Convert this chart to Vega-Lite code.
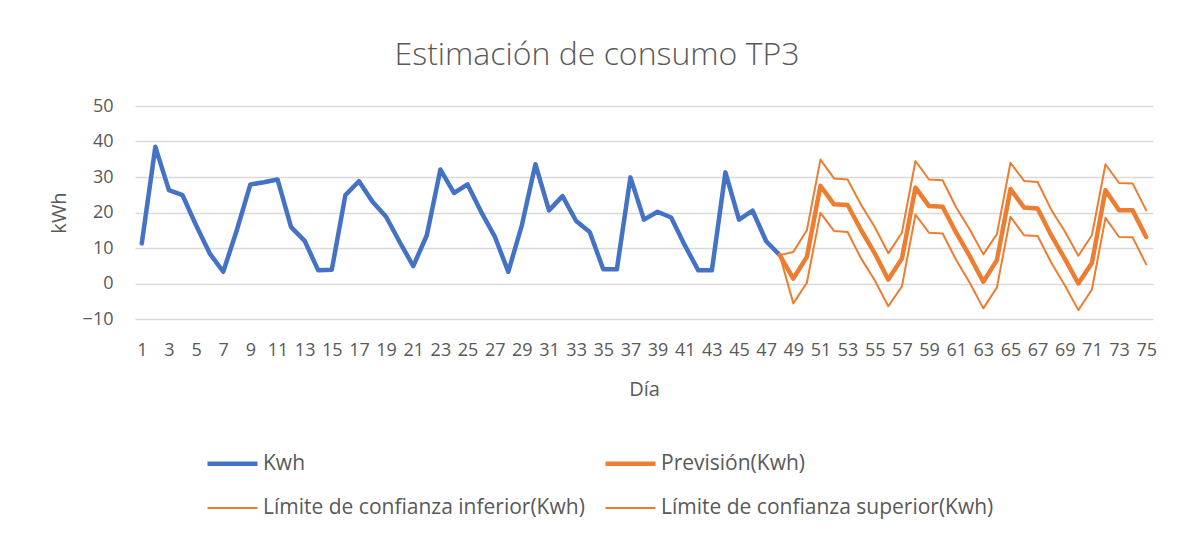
{
  "$schema": "https://vega.github.io/schema/vega-lite/v6.json",
  "width": 1018,
  "height": 213,
  "autosize": {"type": "none"},
  "padding": {"left": 135, "top": 106, "right": 25, "bottom": 219},
  "background": "white",
  "title": {
    "text": "Estimación de consumo TP3",
    "font": "Open Sans",
    "fontSize": 32,
    "fontWeight": 300,
    "color": "#595959",
    "anchor": "middle",
    "dx": -47,
    "offset": 25
  },
  "data": {
    "values": [
      {"Día": 1, "Kwh": 11.3}, {"Día": 2, "Kwh": 38.5}, {"Día": 3, "Kwh": 26.3}, {"Día": 4, "Kwh": 24.9},
      {"Día": 5, "Kwh": 16.4}, {"Día": 6, "Kwh": 8.5}, {"Día": 7, "Kwh": 3.3}, {"Día": 8, "Kwh": 15.0},
      {"Día": 9, "Kwh": 27.9}, {"Día": 10, "Kwh": 28.5}, {"Día": 11, "Kwh": 29.3}, {"Día": 12, "Kwh": 15.9},
      {"Día": 13, "Kwh": 12.0}, {"Día": 14, "Kwh": 3.7}, {"Día": 15, "Kwh": 3.9}, {"Día": 16, "Kwh": 24.9},
      {"Día": 17, "Kwh": 28.8}, {"Día": 18, "Kwh": 23.0}, {"Día": 19, "Kwh": 18.8}, {"Día": 20, "Kwh": 11.7},
      {"Día": 21, "Kwh": 4.9}, {"Día": 22, "Kwh": 13.6}, {"Día": 23, "Kwh": 32.1}, {"Día": 24, "Kwh": 25.5},
      {"Día": 25, "Kwh": 27.9}, {"Día": 26, "Kwh": 20.2}, {"Día": 27, "Kwh": 13.3}, {"Día": 28, "Kwh": 3.3},
      {"Día": 29, "Kwh": 16.4}, {"Día": 30, "Kwh": 33.6}, {"Día": 31, "Kwh": 20.6}, {"Día": 32, "Kwh": 24.6},
      {"Día": 33, "Kwh": 17.6}, {"Día": 34, "Kwh": 14.5}, {"Día": 35, "Kwh": 4.0}, {"Día": 36, "Kwh": 4.0},
      {"Día": 37, "Kwh": 29.9}, {"Día": 38, "Kwh": 18.0}, {"Día": 39, "Kwh": 20.2}, {"Día": 40, "Kwh": 18.6},
      {"Día": 41, "Kwh": 10.8}, {"Día": 42, "Kwh": 3.7}, {"Día": 43, "Kwh": 3.7}, {"Día": 44, "Kwh": 31.3},
      {"Día": 45, "Kwh": 18.0}, {"Día": 46, "Kwh": 20.5}, {"Día": 47, "Kwh": 11.9},
      {"Día": 48, "Kwh": 8.0, "Previsión(Kwh)": 8.0, "Límite de confianza inferior(Kwh)": 8.0, "Límite de confianza superior(Kwh)": 8.0},
      {"Día": 49, "Previsión(Kwh)": 1.4, "Límite de confianza inferior(Kwh)": -5.6, "Límite de confianza superior(Kwh)": 8.9},
      {"Día": 50, "Previsión(Kwh)": 7.5, "Límite de confianza inferior(Kwh)": 0.2, "Límite de confianza superior(Kwh)": 15.0},
      {"Día": 51, "Previsión(Kwh)": 27.5, "Límite de confianza inferior(Kwh)": 19.9, "Límite de confianza superior(Kwh)": 34.9},
      {"Día": 52, "Previsión(Kwh)": 22.3, "Límite de confianza inferior(Kwh)": 14.8, "Límite de confianza superior(Kwh)": 29.6},
      {"Día": 53, "Previsión(Kwh)": 22.1, "Límite de confianza inferior(Kwh)": 14.5, "Límite de confianza superior(Kwh)": 29.3},
      {"Día": 54, "Previsión(Kwh)": 15.0, "Límite de confianza inferior(Kwh)": 7.0, "Límite de confianza superior(Kwh)": 22.1},
      {"Día": 55, "Previsión(Kwh)": 8.5, "Límite de confianza inferior(Kwh)": 0.9, "Límite de confianza superior(Kwh)": 15.9},
      {"Día": 56, "Previsión(Kwh)": 1.1, "Límite de confianza inferior(Kwh)": -6.4, "Límite de confianza superior(Kwh)": 8.5},
      {"Día": 57, "Previsión(Kwh)": 7.0, "Límite de confianza inferior(Kwh)": -0.8, "Límite de confianza superior(Kwh)": 14.3},
      {"Día": 58, "Previsión(Kwh)": 27.0, "Límite de confianza inferior(Kwh)": 19.4, "Límite de confianza superior(Kwh)": 34.5},
      {"Día": 59, "Previsión(Kwh)": 21.8, "Límite de confianza inferior(Kwh)": 14.3, "Límite de confianza superior(Kwh)": 29.3},
      {"Día": 60, "Previsión(Kwh)": 21.6, "Límite de confianza inferior(Kwh)": 14.1, "Límite de confianza superior(Kwh)": 29.1},
      {"Día": 61, "Previsión(Kwh)": 14.3, "Límite de confianza inferior(Kwh)": 6.6, "Límite de confianza superior(Kwh)": 21.4},
      {"Día": 62, "Previsión(Kwh)": 7.7, "Límite de confianza inferior(Kwh)": 0.2, "Límite de confianza superior(Kwh)": 15.2},
      {"Día": 63, "Previsión(Kwh)": 0.5, "Límite de confianza inferior(Kwh)": -7.0, "Límite de confianza superior(Kwh)": 8.2},
      {"Día": 64, "Previsión(Kwh)": 6.6, "Límite de confianza inferior(Kwh)": -1.1, "Límite de confianza superior(Kwh)": 13.9},
      {"Día": 65, "Previsión(Kwh)": 26.6, "Límite de confianza inferior(Kwh)": 18.8, "Límite de confianza superior(Kwh)": 34.0},
      {"Día": 66, "Previsión(Kwh)": 21.4, "Límite de confianza inferior(Kwh)": 13.6, "Límite de confianza superior(Kwh)": 28.9},
      {"Día": 67, "Previsión(Kwh)": 21.1, "Límite de confianza inferior(Kwh)": 13.4, "Límite de confianza superior(Kwh)": 28.6},
      {"Día": 68, "Previsión(Kwh)": 13.6, "Límite de confianza inferior(Kwh)": 5.9, "Límite de confianza superior(Kwh)": 20.8},
      {"Día": 69, "Previsión(Kwh)": 7.0, "Límite de confianza inferior(Kwh)": -0.5, "Límite de confianza superior(Kwh)": 14.7},
      {"Día": 70, "Previsión(Kwh)": 0.0, "Límite de confianza inferior(Kwh)": -7.5, "Límite de confianza superior(Kwh)": 7.8},
      {"Día": 71, "Previsión(Kwh)": 5.8, "Límite de confianza inferior(Kwh)": -1.7, "Límite de confianza superior(Kwh)": 13.6},
      {"Día": 72, "Previsión(Kwh)": 26.3, "Límite de confianza inferior(Kwh)": 18.5, "Límite de confianza superior(Kwh)": 33.6},
      {"Día": 73, "Previsión(Kwh)": 20.6, "Límite de confianza inferior(Kwh)": 13.1, "Límite de confianza superior(Kwh)": 28.3},
      {"Día": 74, "Previsión(Kwh)": 20.6, "Límite de confianza inferior(Kwh)": 13.0, "Límite de confianza superior(Kwh)": 28.2},
      {"Día": 75, "Previsión(Kwh)": 13.1, "Límite de confianza inferior(Kwh)": 5.4, "Límite de confianza superior(Kwh)": 20.6}
    ]
  },
  "transform": [
    {"fold": ["Kwh", "Previsión(Kwh)", "Límite de confianza inferior(Kwh)", "Límite de confianza superior(Kwh)"], "as": ["serie", "valor"]},
    {"filter": "isValid(datum.valor)"}
  ],
  "mark": {"type": "line", "strokeJoin": "round", "strokeCap": "round"},
  "encoding": {
    "x": {
      "field": "Día",
      "type": "ordinal",
      "scale": {"type": "point", "padding": 0.5},
      "axis": {
        "title": "Día",
        "values": [1,3,5,7,9,11,13,15,17,19,21,23,25,27,29,31,33,35,37,39,41,43,45,47,49,51,53,55,57,59,61,63,65,67,69,71,73,75],
        "labelAngle": 0,
        "labelOverlap": false,
        "domain": false,
        "ticks": false,
        "grid": false,
        "labelPadding": 22,
        "titlePadding": 20
      }
    },
    "y": {
      "field": "valor",
      "type": "quantitative",
      "scale": {"domain": [-10, 50], "nice": false, "zero": false},
      "axis": {
        "title": "kWh",
        "values": [-10, 0, 10, 20, 30, 40, 50],
        "domain": false,
        "ticks": false,
        "gridColor": "#d9d9d9",
        "gridWidth": 1.3,
        "labelPadding": 22,
        "titlePadding": 13
      }
    },
    "color": {
      "field": "serie",
      "type": "nominal",
      "scale": {
        "domain": ["Kwh", "Previsión(Kwh)", "Límite de confianza inferior(Kwh)", "Límite de confianza superior(Kwh)"],
        "range": ["#4472C4", "#ED7D31", "#ED7D31", "#ED7D31"]
      },
      "legend": {
        "title": null,
        "orient": "none",
        "legendX": 70,
        "legendY": 330,
        "direction": "horizontal",
        "columns": 2,
        "gridAlign": "each",
        "columnPadding": 11,
        "rowPadding": 8,
        "symbolType": "stroke",
        "symbolSize": 2500,
        "labelOffset": 3,
        "labelLimit": 600,
        "labelFontSize": 21,
        "labelFont": "Open Sans",
        "labelColor": "#595959"
      }
    },
    "strokeWidth": {
      "field": "serie",
      "type": "nominal",
      "scale": {
        "type": "ordinal",
        "domain": ["Kwh", "Previsión(Kwh)", "Límite de confianza inferior(Kwh)", "Límite de confianza superior(Kwh)"],
        "range": [4.5, 4.5, 2, 2]
      }
    }
  },
  "config": {
    "view": {"stroke": null},
    "axis": {
      "labelFont": "Open Sans",
      "labelFontSize": 18,
      "labelColor": "#595959",
      "titleFont": "Open Sans",
      "titleFontSize": 20,
      "titleFontWeight": "normal",
      "titleColor": "#595959"
    }
  }
}
